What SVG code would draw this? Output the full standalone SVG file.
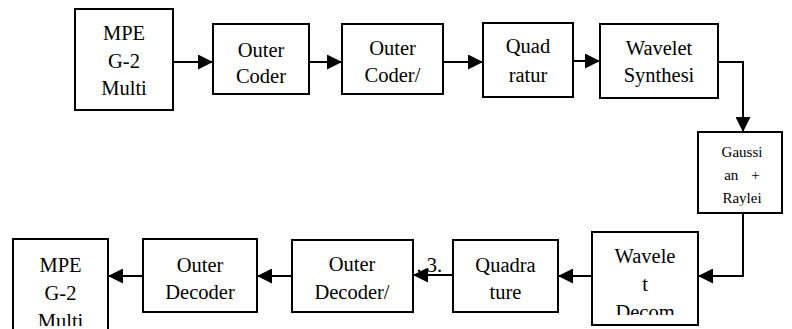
<svg xmlns="http://www.w3.org/2000/svg" width="792" height="329" viewBox="0 0 792 329">
<style>
.box{fill:#fff;stroke:#000;stroke-width:2}
.t{font-family:'Liberation Serif','DejaVu Serif',serif;font-size:20.5px;fill:#000;text-anchor:middle}
.s{font-family:'Liberation Serif','DejaVu Serif',serif;font-size:15px;fill:#000;text-anchor:middle}
.c{fill:none;stroke:#000;stroke-width:2}
</style>
<defs>
<marker id="ah" markerUnits="userSpaceOnUse" markerWidth="15" markerHeight="15" refX="15" refY="7.5" orient="auto">
<path d="M0,0 L15,7.5 L0,15 z" fill="#000"/>
</marker>
<clipPath id="cg"><rect x="698" y="132" width="84" height="73.5"/></clipPath>
<clipPath id="cw"><rect x="592" y="232" width="106" height="83"/></clipPath>
<clipPath id="cm"><rect x="13" y="239" width="95" height="87"/></clipPath>
</defs>
<text font-family="Liberation Serif, DejaVu Serif, serif" font-size="20.5" x="442" y="272" text-anchor="end">. 3.</text>
<g id="connectors">
<path class="c" d="M173,62 H213" marker-end="url(#ah)"/>
<path class="c" d="M309,62 H342" marker-end="url(#ah)"/>
<path class="c" d="M443,62 H483" marker-end="url(#ah)"/>
<path class="c" d="M573,61 H600" marker-end="url(#ah)"/>
<path class="c" d="M718,62 H743 V132" marker-end="url(#ah)"/>
<path class="c" d="M743,213 V276 H698" marker-end="url(#ah)"/>
<path class="c" d="M592,276 H558" marker-end="url(#ah)"/>
<path class="c" d="M452,275 H413" marker-end="url(#ah)"/>
<path class="c" d="M292,276 H257" marker-end="url(#ah)"/>
<path class="c" d="M143,276 H108" marker-end="url(#ah)"/>
</g>
<g id="mpe-top">
<rect class="box" x="75" y="9" width="98" height="101"/>
<text class="t" x="124" y="40">MPE</text>
<text class="t" x="124" y="68">G-2</text>
<text class="t" x="124" y="95">Multi</text>
</g>
<g id="outer-coder">
<rect class="box" x="213" y="24" width="96" height="70"/>
<text class="t" x="261" y="57">Outer</text>
<text class="t" x="261" y="83">Coder</text>
</g>
<g id="outer-coder2">
<rect class="box" x="342" y="24" width="101" height="70"/>
<text class="t" x="392.5" y="55">Outer</text>
<text class="t" x="392.5" y="82">Coder/</text>
</g>
<g id="quad">
<rect class="box" x="483" y="23" width="90" height="74"/>
<text class="t" x="528" y="53">Quad</text>
<text class="t" x="528" y="81.5">ratur</text>
</g>
<g id="wavelet-synth">
<rect class="box" x="600" y="24" width="118" height="74"/>
<text class="t" x="659" y="55">Wavelet</text>
<text class="t" x="659" y="81.5">Synthesi</text>
</g>
<g id="channel">
<rect class="box" x="698" y="132" width="84" height="81"/>
<g clip-path="url(#cg)">
<text class="s" x="742" y="157">Gaussi</text>
<text class="s" x="742" y="180">an<tspan dx="13">+</tspan></text>
<text class="s" x="742" y="203">Raylei</text>
</g>
</g>
<g id="wavelet-decom">
<rect class="box" x="592" y="232" width="106" height="93"/>
<g clip-path="url(#cw)">
<text class="t" x="645" y="263">Wavele</text>
<text class="t" x="645" y="291">t</text>
<text class="t" x="645" y="318.5">Decom</text>
</g>
</g>
<g id="quadrature">
<rect class="box" x="453" y="240" width="105" height="72"/>
<text class="t" x="505.5" y="272">Quadra</text>
<text class="t" x="505.5" y="299">ture</text>
</g>
<g id="outer-decoder2">
<rect class="box" x="292" y="240" width="121" height="72"/>
<text class="t" x="352" y="271">Outer</text>
<text class="t" x="352" y="299">Decoder/</text>
</g>
<g id="outer-decoder">
<rect class="box" x="143" y="239" width="114" height="73"/>
<text class="t" x="200" y="272">Outer</text>
<text class="t" x="200" y="299">Decoder</text>
</g>
<g id="mpe-bottom">
<rect class="box" x="13" y="239" width="95" height="100"/>
<g clip-path="url(#cm)">
<text class="t" x="60.5" y="272">MPE</text>
<text class="t" x="60.5" y="300">G-2</text>
<text class="t" x="60.5" y="327.5">Multi</text>
</g>
</g>
</svg>
